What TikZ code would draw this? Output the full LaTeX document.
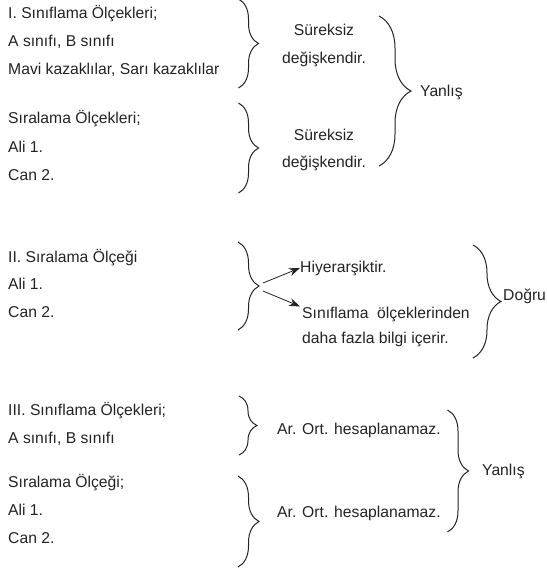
\documentclass[tikz,border=0pt]{standalone}
\usepackage{fontspec}
\setmainfont{Liberation Sans}
\usetikzlibrary{decorations.pathreplacing,arrows.meta}
\definecolor{ink}{RGB}{35,35,35}
\begin{document}
\begin{tikzpicture}[x=1pt,y=-1pt,
  txt/.style={anchor=base west,inner sep=0pt,text=ink,font=\fontsize{15.7}{18}\selectfont},
  ctxt/.style={anchor=base,inner sep=0pt,text=ink,font=\fontsize{15.7}{18}\selectfont},
  brc/.style={draw=ink,line width=1pt,decorate,decoration={brace,amplitude=#1}},
  arr/.style={draw=ink,line width=0.8pt,-{Stealth[length=11pt,width=8pt]}}]
\useasboundingbox (0,0) rectangle (546,570);
% Section I
\node[txt] (a1) at (8,18) {I. Sınıflama Ölçekleri;};
\node[txt] (a2) at (8,46) {A sınıfı, B sınıfı};
\node[txt] (a3) at (8,74) {Mavi kazaklılar, Sarı kazaklılar};
\node[txt] (a4) at (8,123) {Sıralama Ölçekleri;};
\node[txt] (a5) at (8,152) {Ali 1.};
\node[txt] (a6) at (8,180) {Can 2.};
\draw[brc=20pt] (238.5,-1) -- (238.5,88);
\draw[brc=20pt] (238.5,103) -- (238.5,193);
\node[ctxt] (s1) at (324,35) {Süreksiz};
\node[ctxt] (s2) at (324,63) {değişkendir.};
\node[ctxt] (s3) at (324,140) {Süreksiz};
\node[ctxt] (s4) at (324,167) {değişkendir.};
\draw[brc=32pt] (379,16) -- (379,166);
\node[txt] (y1) at (420,96) {Yanlış};
% Section II
\node[txt] (b1) at (8,262) {II. Sıralama Ölçeği};
\node[txt] (b2) at (8,289) {Ali 1.};
\node[txt] (b3) at (8,317) {Can 2.};
\draw[brc=21pt] (238,242) -- (238,330);
\node[txt] (h1) at (300,272) {Hiyerarşiktir.};
\node[txt] (h2) at (302,318) {Sınıflama\ \ ölçeklerinden};
\node[txt] (h3) at (302,343) {daha fazla bilgi içerir.};
\coordinate (p1) at (263,283);
\coordinate (p2) at (263,291);
\draw[arr] (p1) -- (h1.west);
\draw[arr] (p2) -- ([xshift=-2pt]h2.north west);
\draw[brc=28pt] (473,245) -- (473,358);
\node[txt] (d1) at (503,300) {Doğru};
% Section III
\node[txt] (c1) at (8,415) {III. Sınıflama Ölçekleri;};
\node[txt] (c2) at (8,443) {A sınıfı, B sınıfı};
\node[txt] (c3) at (8,487) {Sıralama Ölçeği;};
\node[txt] (c4) at (8,515) {Ali 1.};
\node[txt] (c5) at (8,543) {Can 2.};
\draw[brc=18pt] (239,396) -- (239,455);
\draw[brc=21pt] (238,476) -- (238,567);
\node[txt] (o1) at (277,434) {Ar. Ort. hesaplanamaz.};
\node[txt] (o2) at (277,517) {Ar. Ort. hesaplanamaz.};
\draw[brc=21pt] (447.5,410) -- (447.5,532);
\node[txt] (y2) at (482,475) {Yanlış};
\end{tikzpicture}
\end{document}
